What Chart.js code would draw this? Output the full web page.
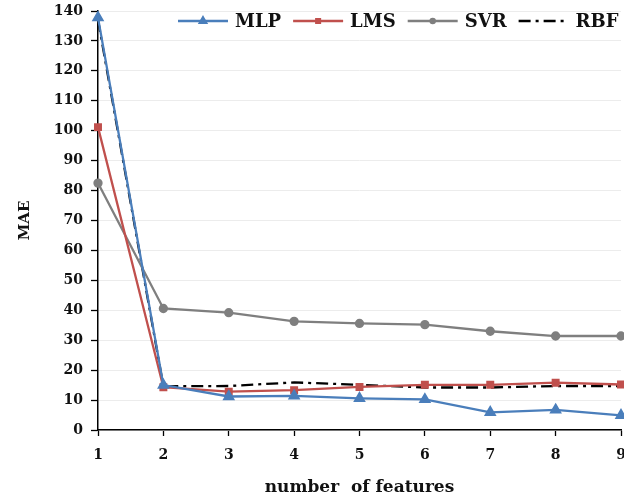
<!DOCTYPE html>
<html>
<head>
<meta charset="utf-8">
<script src="https://cdn.jsdelivr.net/npm/chart.js@4"></script>
<style>
  html, body { margin: 0; padding: 0; background: #fff; }
  canvas { display: block; }
</style>
</head>
<body>
<canvas id="maeChart" width="624" height="501"></canvas>
<script>
// number of features on the x axis
const features = ["1", "2", "3", "4", "5", "6", "7", "8", "9"];

// MAE per model
const mlp = [137.8, 15.0, 11.2, 11.4, 10.6, 10.2, 5.9, 6.7, 4.9];
const lms = [101.2, 14.3, 12.8, 13.3, 14.4, 15.1, 15.1, 15.8, 15.2];
const svr = [82.5, 40.6, 39.2, 36.3, 35.6, 35.2, 33.0, 31.4, 31.4];
const rbf = [137.0, 14.6, 14.7, 15.9, 15.1, 14.2, 14.2, 14.7, 14.7];

const serif = "'DejaVu Serif', 'Liberation Serif', serif";

// legend drawn by hand so each key is a line with its marker in the middle
const lineLegend = {
  id: "lineLegend",
  afterDraw(chart) {
    const ctx = chart.ctx;
    const y = 21;
    let x = 178;
    ctx.save();
    ctx.font = "bold 18px " + serif;
    ctx.textBaseline = "middle";
    chart.data.datasets.forEach(ds => {
      const w = 50;
      ctx.strokeStyle = ds.borderColor;
      ctx.lineWidth = 2.5;
      ctx.setLineDash(ds.borderDash || []);
      ctx.beginPath();
      ctx.moveTo(x, y);
      ctx.lineTo(x + w, y);
      ctx.stroke();
      ctx.setLineDash([]);
      if (ds.pointRadius > 0) {
        ctx.fillStyle = ds.pointBackgroundColor;
        ctx.strokeStyle = ds.borderColor;
        Chart.helpers.drawPoint(ctx, {
          pointStyle: ds.pointStyle,
          radius: ds.pointRadius - 1.5,
          borderWidth: 1
        }, x + w / 2, y);
      }
      x += w + 7;
      ctx.fillStyle = "#111";
      ctx.fillText(ds.label, x, y + 1);
      x += ctx.measureText(ds.label).width + 12;
    });
    ctx.restore();
  }
};

function series(label, data, color, style, radius, dash) {
  return {
    label: label,
    data: data,
    borderColor: color,
    backgroundColor: color,
    pointBackgroundColor: color,
    pointBorderColor: color,
    pointStyle: style,
    pointRadius: radius,
    pointHoverRadius: radius,
    borderWidth: 2.3,
    borderDash: dash,
    tension: 0,
    clip: false
  };
}

new Chart(document.getElementById("maeChart"), {
  type: "line",
  data: {
    labels: features,
    datasets: [
      series("MLP", mlp, "#4a7ebb", "triangle", 5, []),
      series("LMS", lms, "#c0504d", "rect", 4, []),
      series("SVR", svr, "#7f7f7f", "circle", 3.5, []),
      series("RBF", rbf, "#000000", "circle", 0, [12, 5, 3, 5])
    ]
  },
  options: {
    responsive: false,
    animation: false,
    devicePixelRatio: 1,
    layout: { autoPadding: false, padding: { top: 11, right: 3, left: 0, bottom: 0 } },
    plugins: {
      legend: { display: false },
      tooltip: { enabled: false }
    },
    scales: {
      x: {
        offset: false,
        grid: { drawOnChartArea: false, tickLength: 6, tickColor: "#000", tickWidth: 1.3 },
        border: { color: "#000", width: 1.5 },
        ticks: { color: "#111", padding: 11, maxRotation: 0, font: { family: serif, size: 14, weight: "bold" } },
        title: {
          display: true,
          text: "number  of features",
          color: "#111",
          font: { family: serif, size: 17, weight: "bold" },
          padding: { top: 0, bottom: 3 }
        },
        afterFit: s => { s.height = 71; s.paddingLeft = 0; s.paddingRight = 0; }
      },
      y: {
        min: 0,
        max: 140,
        ticks: { stepSize: 10, color: "#111", padding: 8, font: { family: serif, size: 14, weight: "bold" } },
        grid: { color: "#ececec", tickColor: "#000", tickLength: 7, tickWidth: 1.3 },
        border: { color: "#000", width: 1.5 },
        title: {
          display: true,
          text: "MAE",
          color: "#111",
          font: { family: serif, size: 15, weight: "bold" },
          padding: { top: 16, bottom: 0 }
        },
        afterFit: s => { s.width = 98; s.paddingTop = 0; s.paddingBottom = 0; }
      }
    }
  },
  plugins: [lineLegend]
});
</script>
</body>
</html>
